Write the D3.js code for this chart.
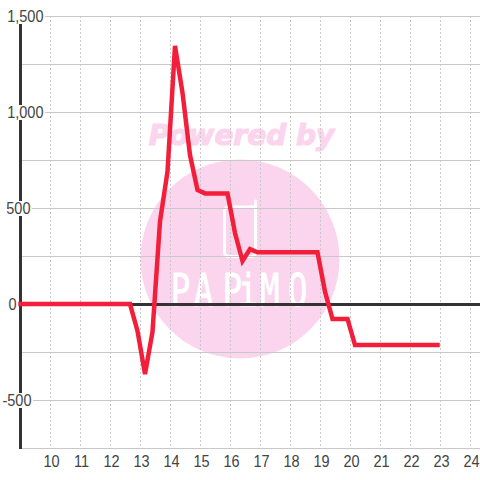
<!DOCTYPE html>
<html><head><meta charset="utf-8">
<script src="https://cdn.jsdelivr.net/npm/d3@7/dist/d3.min.js"></script>
<style>html,body{margin:0;padding:0;background:#fff}svg{display:block}text{font-family:"Liberation Sans",Arial,sans-serif}</style>
</head><body><div id="c"></div>
<script>
const hours=[9,12.65,12.9,13.15,13.4,13.65,13.9,14.15,14.4,14.65,14.9,15.15,15.9,16.15,16.4,16.65,16.9,18.9,19.15,19.4,19.9,20.15,22.9];
const values=[0,0,-140,-365,-145,430,690,1344,1100,776,594,576,576,370,224,286,269,269,64,-78,-78,-214,-214];
const xTicks=[10,11,12,13,14,15,16,17,18,19,20,21,22,23,24];
const yMajor=[1500,1000,500,0,-500];
const yMinor=[1250,750,250,-250,-750];

const W=480,H=480;
const x=d3.scaleLinear().domain([9,24.33]).range([20.5,480.4]);
const y=d3.scaleLinear().domain([-750,1500]).range([448,16]);
const svg=d3.select('#c').append('svg').attr('width',W).attr('height',H);

// watermark
const wm=svg.append('g');
wm.append('circle').attr('cx',240).attr('cy',259).attr('r',99.5).attr('fill','#fbd5ee');
wm.append('text').attr('x',241.5).attr('y',145).attr('text-anchor','middle')
  .style('font-family','"DejaVu Sans"').style('font-weight','bold').style('font-style','italic')
  .style('font-size','28px').attr('fill','#fbd5ee').attr('stroke','#fbd5ee').attr('stroke-width',1.2).text('Powered by');
wm.append('path').attr('d','M254,207 H229 Q224.5,207 224.5,211 V252 Q224.5,256.5 229,256.5 H251 Q255.5,256.5 255.5,252 V201')
  .attr('fill','none').attr('stroke','#fff').attr('stroke-width',3).attr('stroke-linecap','round');
wm.append('text').attr('transform','translate(0,306) scale(0.72,1)')
  .attr('x',[237,269,309,331,361,400].join(' ')).attr('y',0)
  .style('font-family','"DejaVu Sans Mono"').style('font-size','45px').attr('fill','#fff').attr('stroke','#fff').attr('stroke-width',0.8).text('PAPiMO');

// grid
const g=svg.append('g');
g.selectAll('.v').data(xTicks).join('line').attr('class','v')
  .attr('x1',d=>Math.floor(x(d))+.5).attr('x2',d=>Math.floor(x(d))+.5).attr('y1',16).attr('y2',448)
  .attr('stroke','#c9c9c9').attr('stroke-dasharray','2,2');
g.selectAll('.h').data(yMajor.concat(yMinor)).join('line').attr('class','h')
  .attr('x1',20).attr('x2',W).attr('y1',d=>y(d)+.5).attr('y2',d=>y(d)+.5)
  .attr('stroke','#c8c8c8');
g.append('line').attr('x1',20).attr('x2',W).attr('y1',y(0)+.5).attr('y2',y(0)+.5).attr('stroke','#333').attr('stroke-width',3);
g.append('line').attr('x1',20.5).attr('x2',20.5).attr('y1',16).attr('y2',449).attr('stroke','#333').attr('stroke-width',3);

// labels
const fmt=d3.format(',');
const labelRight=d=>d===0?16.5:d===-500?31.5:d===500?30.5:43.5;
const yl=svg.append('g').selectAll('g').data(yMajor).join('g');
yl.append('rect').attr('y',d=>y(d)-7).attr('height',15).attr('fill','#fff');
yl.append('text').attr('transform',d=>`translate(${labelRight(d)},${y(d)+6}) scale(0.88,1)`).attr('text-anchor','end')
  .style('font-size','16.5px').attr('fill','#444').text(d=>d<0?String(d):fmt(d));
yl.each(function(d){
  const w=d3.select(this).select('text').node().getComputedTextLength()*0.88;
  d3.select(this).select('rect').attr('x',labelRight(d)-w).attr('width',w+1.5);
});
svg.append('g').selectAll('text').data(xTicks).join('text').attr('transform',d=>`translate(${x(d)+1},467) scale(0.88,1)`)
  .attr('text-anchor','middle').style('font-size','16.5px').attr('fill','#444').text(d=>d);

// series
const line=d3.line().x((d,i)=>x(hours[i])).y(d=>y(d));
svg.append('path').datum(values).attr('d',line).attr('fill','none').attr('stroke','#f31f3a').attr('stroke-width',4.5)
  .attr('stroke-linejoin','miter').attr('stroke-miterlimit',3).attr('stroke-linecap','square');
</script></body></html>
